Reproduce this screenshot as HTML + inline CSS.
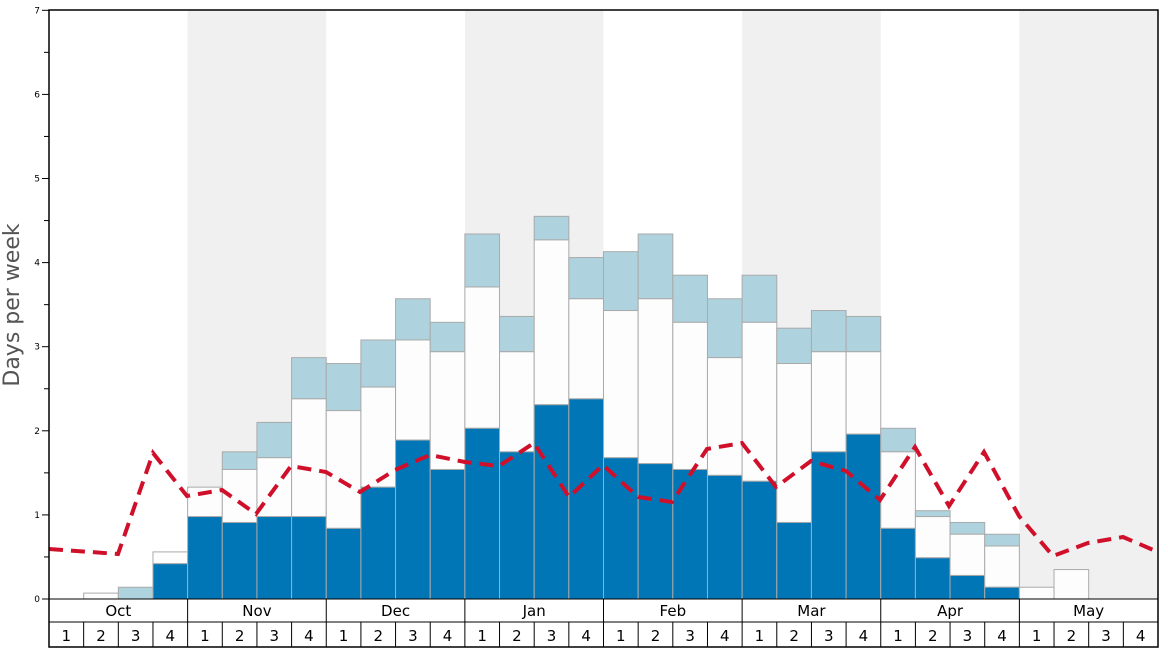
<!DOCTYPE html>
<html><head><meta charset="utf-8"><style>body{margin:0;background:#fff}svg{display:block;font-family:"DejaVu Sans","Liberation Sans",sans-serif}</style></head><body>
<svg width="1168" height="648" viewBox="0 0 1168 648" xmlns="http://www.w3.org/2000/svg">
<rect x="187.6" y="10" width="138.6" height="589" fill="#f0f0f0"/>
<rect x="464.9" y="10" width="138.6" height="589" fill="#f0f0f0"/>
<rect x="742.1" y="10" width="138.6" height="589" fill="#f0f0f0"/>
<rect x="1019.4" y="10" width="138.6" height="589" fill="#f0f0f0"/>
<g id="bars" stroke="#aaa" stroke-width="1"></g>
<polyline fill="none" stroke="#d0102a" stroke-width="4" stroke-dasharray="14,8" points="49,549 118,554 153,453 187,496 222,490 256,514 291,466 326,472 360,492 395,470 430,455 465,462 499,466 534,443 569,497 603,465 638,497 672,502 707,449 742,443 776,487 811,461 846,471 880,500 915,447 949,506 984,452 1019,516 1053,556 1088,543 1123,537 1158,552"/>
<rect x="49" y="10" width="1109" height="637" fill="none" stroke="#000" stroke-width="1.5"/>
<line x1="49" y1="599" x2="1158" y2="599" stroke="#000"/>
<line x1="49" y1="622" x2="1158" y2="622" stroke="#000"/>
<g id="ax" font-size="9" text-anchor="end"></g>
<g id="xl" font-size="15" text-anchor="middle" fill="#000"></g>
<text transform="translate(19,305) rotate(-90)" font-size="22" fill="#555" text-anchor="middle">Days per week</text>
</svg>
<script>
var d=[[0,0,0],[0,.07,.07],[0,0,.14],[.42,.56,.56],[.98,1.33,1.33],[.91,1.54,1.75],[.98,1.68,2.1],[.98,2.38,2.87],[.84,2.24,2.8],[1.33,2.52,3.08],[1.89,3.08,3.57],[1.54,2.94,3.29],[2.03,3.71,4.34],[1.75,2.94,3.36],[2.31,4.27,4.55],[2.38,3.57,4.06],[1.68,3.43,4.13],[1.61,3.57,4.34],[1.54,3.29,3.85],[1.47,2.87,3.57],[1.4,3.29,3.85],[.91,2.8,3.22],[1.75,2.94,3.43],[1.96,2.94,3.36],[.84,1.75,2.03],[.49,.98,1.05],[.28,.77,.91],[.14,.63,.77],[0,.14,.14],[0,.35,.35],[0,0,0],[0,0,0]];
var W=1109/32,S=84.1,Y0=599,h='';
function r(x,a,b,c){if(b<=a)return'';return'<rect x="'+x+'" y="'+(Y0-b*S)+'" width="'+W+'" height="'+((b-a)*S)+'" fill="'+c+'"/>';}
d.forEach(function(v,i){var x=49+i*W;h+=r(x,v[1],v[2],'#aed3df')+r(x,v[0],v[1],'#fdfdfd')+r(x,0,v[0],'#0076b6');});
document.getElementById('bars').innerHTML=h;
var a='';for(var k=0;k<=14;k++){var y=Y0-k*S/2;a+='<line x1="'+(k%2?44:42)+'" y1="'+y+'" x2="49" y2="'+y+'" stroke="#000"/>';if(k%2==0)a+='<text x="40" y="'+(y+3)+'">'+k/2+'</text>';}
document.getElementById('ax').innerHTML=a;
var m=['Oct','Nov','Dec','Jan','Feb','Mar','Apr','May'],t='';
for(var i=0;i<8;i++){var x=49+i*W*4;if(i)t+='<line x1="'+x+'" y1="599" x2="'+x+'" y2="647" stroke="#000"/>';t+='<text x="'+(x+W*2)+'" y="616">'+m[i]+'</text>';}
for(var i=0;i<32;i++){var x=49+i*W;if(i%4)t+='<line x1="'+x+'" y1="622" x2="'+x+'" y2="647" stroke="#000"/>';t+='<text x="'+(x+W/2)+'" y="641">'+(i%4+1)+'</text>';}
document.getElementById('xl').innerHTML=t;
</script>
</body></html>
